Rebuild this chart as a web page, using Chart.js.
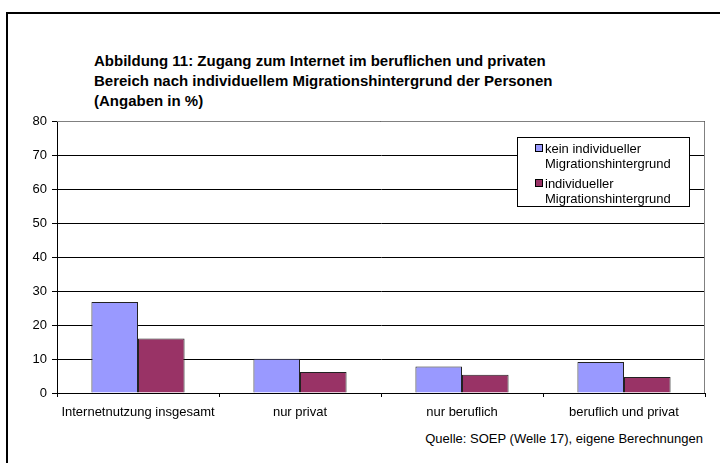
<!DOCTYPE html>
<html>
<head>
<meta charset="utf-8">
<script src="https://cdn.jsdelivr.net/npm/chart.js@4"></script>
<style>
  body { margin: 0; background: #fff; }
  #wrap { position: relative; width: 720px; height: 463px; overflow: hidden; font-family: "Liberation Sans", Arial, sans-serif; }
  #frame { position: absolute; left: 6px; top: 12px; width: 740px; height: 480px; border-left: 2px solid #000; border-top: 2px solid #000; }
  #title { position: absolute; left: 94px; top: 51px; font-weight: bold; font-size: 15px; line-height: 20px; color: #000; }
  #source { position: absolute; right: 17px; top: 431px; font-size: 13px; color: #000; }
  canvas { position: absolute; left: 0; top: 0; }
</style>
</head>
<body>
<div id="wrap">
  <div id="frame"></div>
  <div id="title">Abbildung 11: Zugang zum Internet im beruflichen und privaten<br>Bereich nach individuellem Migrationshintergrund der Personen<br>(Angaben in %)</div>
  <div id="source">Quelle: SOEP (Welle 17), eigene Berechnungen</div>
  <canvas id="chart" width="720" height="463"></canvas>
</div>
<script>
const categories = ["Internetnutzung insgesamt", "nur privat", "nur beruflich", "beruflich und privat"];
const seriesNames = [
  ["kein individueller", "Migrationshintergrund"],
  ["individueller", "Migrationshintergrund"]
];
const keinMigration = [26.8, 10.1, 7.8, 9.1];
const mitMigration = [16.0, 6.2, 5.4, 4.7];
const yTicks = [0, 10, 20, 30, 40, 50, 60, 70, 80];

const colors = ["#9999ff", "#993366"];
const fontFamily = "'Liberation Sans', Arial, sans-serif";

// gray frame round the plot area
const plotFrame = {
  id: "plotFrame",
  beforeDatasetsDraw(chart) {
    const a = chart.chartArea, ctx = chart.ctx;
    ctx.save();
    ctx.strokeStyle = "#808080";
    ctx.lineWidth = 1;
    ctx.beginPath();
    ctx.moveTo(a.left, a.top + 0.5);
    ctx.lineTo(a.right - 0.5, a.top + 0.5);
    ctx.lineTo(a.right - 0.5, a.bottom);
    ctx.stroke();
    ctx.restore();
  }
};

// legend box with two-line labels
const boxLegend = {
  id: "boxLegend",
  afterDraw(chart) {
    const ctx = chart.ctx;
    const x = 517, y = 137, w = 172, h = 69;
    ctx.save();
    ctx.fillStyle = "#fff";
    ctx.fillRect(x, y, w, h);
    ctx.strokeStyle = "#000";
    ctx.lineWidth = 1;
    ctx.strokeRect(x + 0.5, y + 0.5, w, h);
    ctx.font = "13px " + fontFamily;
    ctx.textBaseline = "middle";
    chart.data.datasets.forEach((ds, i) => {
      const top = y + 11 + i * 35;
      ctx.fillStyle = ds.backgroundColor;
      ctx.fillRect(535, top - 4, 8, 8);
      ctx.strokeRect(535.5, top - 3.5, 7, 7);
      ctx.fillStyle = "#000";
      ds.label.forEach((line, j) => ctx.fillText(line, 545, top + 1 + j * 15));
    });
    ctx.restore();
  }
};

new Chart(document.getElementById("chart"), {
  type: "bar",
  data: {
    labels: categories,
    datasets: [
      { label: seriesNames[0], data: keinMigration, backgroundColor: colors[0], borderColor: "#222", borderWidth: 1 },
      { label: seriesNames[1], data: mitMigration, backgroundColor: colors[1], borderColor: "#222", borderWidth: 1 }
    ]
  },
  options: {
    responsive: false,
    animation: false,
    layout: { padding: { left: 7, top: 121, right: 15, bottom: 0 } },
    datasets: { bar: { categoryPercentage: 0.575, barPercentage: 1 } },
    plugins: { legend: { display: false }, title: { display: false }, tooltip: { enabled: false } },
    scales: {
      x: {
        offset: true,
        grid: { offset: true, drawOnChartArea: false, color: "#000", tickLength: 4 },
        border: { color: "#000" },
        ticks: { color: "#000", font: { family: fontFamily, size: 13 }, padding: 8, maxRotation: 0 },
        afterFit(s) { s.height = 70; }
      },
      y: {
        min: 0, max: 80,
        afterBuildTicks(s) { s.ticks = yTicks.map(v => ({ value: v })); },
        grid: { color: "#000", tickLength: 5 },
        border: { color: "#000" },
        ticks: { color: "#000", font: { family: fontFamily, size: 13 }, padding: 5 },
        afterFit(s) { s.width = 50; }
      }
    }
  },
  plugins: [plotFrame, boxLegend]
});
</script>
</body>
</html>
